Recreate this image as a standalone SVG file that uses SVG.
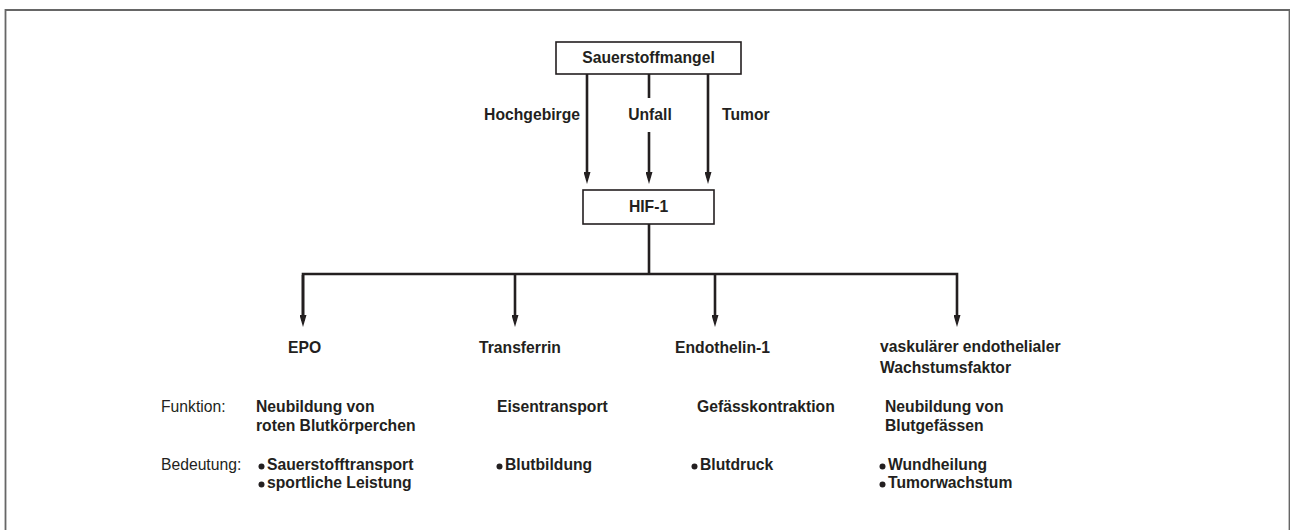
<svg xmlns="http://www.w3.org/2000/svg" width="1290" height="530" viewBox="0 0 1290 530">
<style>
text{font-family:"Liberation Sans",Arial,Helvetica,sans-serif;font-size:15.7px;fill:#231f20}
.b{font-weight:bold}
.box{fill:#fff;stroke:#231f20;stroke-width:1.6}
.ln{fill:none;stroke:#231f20;stroke-width:2.6}
.dot{fill:#231f20}
</style>
<defs>
<marker id="ah" viewBox="0 0 12 7" markerWidth="12" markerHeight="7" refX="6" refY="3.5" orient="auto" markerUnits="userSpaceOnUse">
<path d="M0,0 L12,3.5 L0,7 z" fill="#231f20"/>
</marker>
</defs>
<rect width="1290" height="530" fill="#fff"/>
<path d="M5.5,540 V10 H1289.5 V540" fill="none" stroke="#666" stroke-width="1.8"/>

<g id="connectors">
<line class="ln" x1="587" y1="74" x2="587" y2="178" marker-end="url(#ah)"/>
<line class="ln" x1="649" y1="74" x2="649" y2="98"/>
<line class="ln" x1="649" y1="132" x2="649" y2="178" marker-end="url(#ah)"/>
<line class="ln" x1="708" y1="74" x2="708" y2="178" marker-end="url(#ah)"/>
<line class="ln" x1="649" y1="224" x2="649" y2="274"/>
<path class="ln" d="M303,321 V274 H957 V321" marker-end="url(#ah)"/>
<line class="ln" x1="303" y1="275" x2="303" y2="321" marker-end="url(#ah)"/>
<line class="ln" x1="515" y1="274" x2="515" y2="321" marker-end="url(#ah)"/>
<line class="ln" x1="715" y1="274" x2="715" y2="321" marker-end="url(#ah)"/>
<text class="b" x="580" y="120" text-anchor="end">Hochgebirge</text>
<text class="b" x="650" y="120" text-anchor="middle">Unfall</text>
<text class="b" x="722" y="120">Tumor</text>
</g>

<g id="sauerstoffmangel">
<rect class="box" x="556" y="42" width="185" height="32"/>
<text class="b" x="648.5" y="63" text-anchor="middle">Sauerstoffmangel</text>
</g>

<g id="hif1">
<rect class="box" x="583" y="190" width="131" height="34"/>
<text class="b" x="648.5" y="212" text-anchor="middle">HIF-1</text>
</g>

<g id="labels">
<text x="161" y="412">Funktion:</text>
<text x="161" y="470">Bedeutung:</text>
</g>

<g id="epo">
<text class="b" x="288" y="353">EPO</text>
<text class="b" x="256" y="412">Neubildung von</text>
<text class="b" x="256" y="431">roten Blutkörperchen</text>
<circle class="dot" cx="261.5" cy="466.5" r="3"/>
<text class="b" x="267" y="470">Sauerstofftransport</text>
<circle class="dot" cx="261.5" cy="484.5" r="3"/>
<text class="b" x="267" y="488">sportliche Leistung</text>
</g>

<g id="transferrin">
<text class="b" x="479" y="353">Transferrin</text>
<text class="b" x="497" y="412">Eisentransport</text>
<circle class="dot" cx="499.5" cy="466.5" r="3"/>
<text class="b" x="505" y="470">Blutbildung</text>
</g>

<g id="endothelin">
<text class="b" x="675" y="353">Endothelin-1</text>
<text class="b" x="697" y="412">Gefässkontraktion</text>
<circle class="dot" cx="694.5" cy="466.5" r="3"/>
<text class="b" x="700" y="470">Blutdruck</text>
</g>

<g id="vegf">
<text class="b" x="880" y="352">vaskulärer endothelialer</text>
<text class="b" x="880" y="373">Wachstumsfaktor</text>
<text class="b" x="885" y="412">Neubildung von</text>
<text class="b" x="885" y="431">Blutgefässen</text>
<circle class="dot" cx="882.5" cy="466.5" r="3"/>
<text class="b" x="888" y="470">Wundheilung</text>
<circle class="dot" cx="882.5" cy="484.5" r="3"/>
<text class="b" x="888" y="488">Tumorwachstum</text>
</g>
</svg>
